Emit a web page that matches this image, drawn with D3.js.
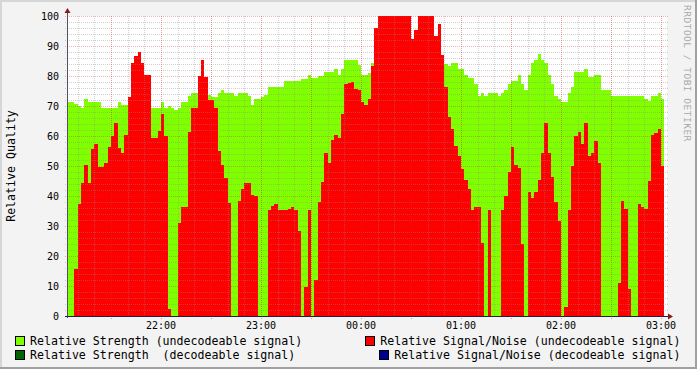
<!DOCTYPE html>
<html>
<head>
<meta charset="utf-8">
<script src="https://cdn.jsdelivr.net/npm/d3@7"></script>
<style>
  body { margin: 0; background: #f3f3f3; }
  text { font-family: "DejaVu Sans Mono", monospace; fill: #000; }
</style>
</head>
<body>
<svg id="chart" width="697" height="369"></svg>
<script>
//Samples every 2 minutes, first one at 21:04
var startTime = new Date(2020, 0, 1, 21, 4);
var stepMinutes = 2;

//Relative Strength (undecodeable signal)
var strength = [
  71.3, 71.3, 70.7, 70, 69.4, 72.3, 71.4, 71.4, 71.4, 71.4,
  69.4, 69.4, 69.4, 69.4, 69.4, 71.4, 70.3, 70.3, 71, 71,
  71, 71, 71, 70.5, 70, 69.4, 69.4, 69.4, 71.3, 69.4,
  70, 69.4, 68.7, 69.4, 71.4, 71.4, 73.4, 74.2, 74.2, 74,
  74, 74, 73.7, 73, 73, 74.2, 75.3, 74.2, 74.2, 74.2,
  73.3, 74.2, 74.2, 74.2, 73.3, 70.3, 72.3, 72.3, 73, 73.7,
  76.2, 76.2, 76.2, 76.2, 76.2, 78.3, 78.3, 78.3, 78.3, 78.3,
  79, 79, 80.2, 79.4, 79.4, 80.1, 80.1, 81.3, 81.3, 81.3,
  82.2, 80.3, 82.2, 85.3, 85.3, 85.3, 85.3, 83.7, 80.3, 80.3,
  81.1, 84.2, 84, 84, 84, 84, 84, 84, 84, 84,
  84, 84, 84, 84, 84, 84, 84, 84, 84, 84,
  84, 84, 84, 84, 83.4, 84.2, 84.2, 82.2, 82.2, 80.3,
  79.4, 79.4, 77.3, 73.3, 74.2, 73.3, 74.2, 74.2, 74.2, 73.3,
  74.2, 75.3, 77.3, 78.4, 78.4, 80.3, 77.3, 75.3, 80.3, 84.2,
  85.3, 87.3, 85.3, 84.2, 80.3, 77.3, 73.3, 72.2, 71.4, 71.4,
  74.2, 76.2, 81.4, 81.4, 81.4, 82.2, 79.8, 79.6, 80.3, 80.3,
  75.3, 75.3, 75.3, 73.3, 73.3, 73.3, 73.3, 73.3, 73.3, 73.3,
  73.3, 73.3, 73.3, 72.3, 71.7, 73.3, 73.3, 74.2, 72.3
];

//Relative Signal/Noise (undecodeable signal)
var signalNoise = [
  0, 0, 15.8, 37.3, 44.2, 50.3, 44.4, 55.6, 57.3, 49.8,
  49.8, 51, 56.2, 60, 64.2, 56, 54.2, 60.3, 73, 84.2,
  86.7, 88, 84.2, 80.3, 80.3, 59.4, 59.4, 61.8, 67.3, 60,
  2.3, 0, 0, 31, 36.4, 36.4, 61.4, 69.4, 69.4, 80,
  85.3, 79.8, 72, 72, 69.2, 55, 50.3, 46, 37.6, 0,
  0, 38.3, 42.2, 44.2, 44.2, 40.3, 40, 0, 0, 0,
  35.3, 36.7, 37.3, 35.3, 35.3, 35.3, 35.7, 36.2, 35.3, 28.4,
  0, 9.8, 35.3, 0, 12, 38, 44.6, 54.2, 51, 58.7,
  60.3, 59.4, 67.3, 77.3, 77.6, 78.1, 75.6, 75.3, 71.4, 70.3,
  72.2, 83.3, 95.9, 100, 100, 100, 100, 100, 100, 100,
  100, 100, 100, 92.3, 95.3, 100, 100, 100, 100, 100,
  93.4, 97.3, 87, 76.4, 66.2, 62.2, 56.7, 53.4, 49, 45.3,
  42.2, 35.3, 36.4, 36.2, 24.4, 0, 35.3, 0, 0, 0,
  35.3, 40, 48, 56.2, 50.5, 49.2, 24, 0, 41.4, 39.2,
  41.4, 45.3, 54.2, 64.2, 54.2, 46.4, 38.1, 31.8, 0, 3.1,
  35.3, 50, 60, 61.4, 57.3, 64.2, 53.4, 54.2, 58.3, 51,
  0, 0, 0, 0, 0, 10.9, 38.3, 35.6, 8.9, 0,
  0, 37.3, 36.4, 35.6, 45, 60.3, 61.1, 62.3, 50
];

//Legend entries
var legendLabels = [
  "Relative Strength (undecodeable signal)",
  "Relative Signal/Noise (undecodeable signal)",
  "Relative Strength  (decodeable signal)",
  "Relative Signal/Noise (decodeable signal)"
];
var legendColors = ["#7fff00", "#ff0000", "#006400", "#000090"];

var yTicks = [0, 10, 20, 30, 40, 50, 60, 70, 80, 90, 100];

var width = 697, height = 369;
var plot = { left: 67, right: 667, top: 16, bottom: 316 };

var svg = d3.select("svg#chart");

//Background with the 3D looking frame
svg.append("rect").attr("width", width).attr("height", height).attr("fill", "#f3f3f3");
svg.append("rect").attr("x", 0).attr("y", 0).attr("width", width).attr("height", 2).attr("fill", "#d6d6d6");
svg.append("rect").attr("x", 0).attr("y", 0).attr("width", 2).attr("height", height).attr("fill", "#d6d6d6");
svg.append("rect").attr("x", 0).attr("y", height - 2).attr("width", width).attr("height", 2).attr("fill", "#a0a0a0");
svg.append("rect").attr("x", width - 2).attr("y", 0).attr("width", 2).attr("height", height).attr("fill", "#a0a0a0");

//Scales
var x = d3.scaleTime()
  .domain([new Date(2020, 0, 1, 21, 3, 36), new Date(2020, 0, 2, 3, 3, 36)])
  .range([plot.left, plot.right]);
var y = d3.scaleLinear().domain([0, 100]).range([plot.bottom, plot.top]);

//Canvas
svg.append("rect")
  .attr("x", plot.left).attr("y", plot.top)
  .attr("width", plot.right - plot.left).attr("height", plot.bottom - plot.top)
  .attr("fill", "#ffffff");

//Turn a value array into step points (one extra point closes the last step)
function toPoints(values) {
  var pts = values.map(function (v, i) {
    return { t: d3.timeMinute.offset(startTime, i * stepMinutes), v: v };
  });
  pts.push({ t: d3.timeMinute.offset(startTime, values.length * stepMinutes), v: values[values.length - 1] });
  return pts;
}

var area = d3.area()
  .curve(d3.curveStepAfter)
  .x(function (d) { return x(d.t); })
  .y0(y(0))
  .y1(function (d) { return y(d.v); });

svg.append("path")
  .datum(toPoints(strength))
  .attr("fill", "#7fff00")
  .attr("shape-rendering", "crispEdges")
  .attr("d", area);

svg.append("path")
  .datum(toPoints(signalNoise))
  .attr("fill", "#ff0000")
  .attr("shape-rendering", "crispEdges")
  .attr("d", area);

//Grid, drawn over the areas like rrdtool does
var grid = svg.append("g").attr("shape-rendering", "crispEdges");
var minorY = d3.range(0, 101, 2).filter(function (v) { return v % 10 != 0; });
var minorX = x.ticks(d3.timeMinute.every(10)).filter(function (d) { return d.getMinutes() % 30 != 0; });
var majorX = x.ticks(d3.timeMinute.every(30));

grid.selectAll(".minorY").data(minorY).enter().append("line")
  .attr("x1", plot.left - 2).attr("x2", plot.right + 2)
  .attr("y1", function (d) { return Math.round(y(d)) + 0.5; })
  .attr("y2", function (d) { return Math.round(y(d)) + 0.5; })
  .attr("stroke", "rgba(140,140,140,0.4)").attr("stroke-dasharray", "1,1");
grid.selectAll(".minorX").data(minorX).enter().append("line")
  .attr("x1", function (d) { return Math.round(x(d)) + 0.5; })
  .attr("x2", function (d) { return Math.round(x(d)) + 0.5; })
  .attr("y1", plot.top).attr("y2", plot.bottom + 2)
  .attr("stroke", "rgba(140,140,140,0.4)").attr("stroke-dasharray", "1,1");
grid.selectAll(".majorY").data(yTicks).enter().append("line")
  .attr("x1", plot.left - 2).attr("x2", plot.right + 2)
  .attr("y1", function (d) { return Math.round(y(d)) + 0.5; })
  .attr("y2", function (d) { return Math.round(y(d)) + 0.5; })
  .attr("stroke", "rgba(210,40,40,0.35)").attr("stroke-dasharray", "1,1");
grid.selectAll(".majorX").data(majorX).enter().append("line")
  .attr("x1", function (d) { return Math.round(x(d)) + 0.5; })
  .attr("x2", function (d) { return Math.round(x(d)) + 0.5; })
  .attr("y1", plot.top).attr("y2", plot.bottom + 3)
  .attr("stroke", "rgba(210,40,40,0.45)").attr("stroke-dasharray", "1,1");

//Axes lines and arrows
svg.append("line")
  .attr("x1", plot.left + 0.5).attr("x2", plot.left + 0.5)
  .attr("y1", plot.bottom + 2).attr("y2", plot.top - 6)
  .attr("stroke", "#505060").attr("shape-rendering", "crispEdges");
svg.append("line")
  .attr("x1", plot.left - 2).attr("x2", plot.right + 4)
  .attr("y1", plot.bottom + 0.5).attr("y2", plot.bottom + 0.5)
  .attr("stroke", "#202040").attr("shape-rendering", "crispEdges");
svg.append("path")
  .attr("d", "M" + (plot.left - 2.5) + "," + (plot.top - 3) + "L" + (plot.left + 3.5) + "," + (plot.top - 3) + "L" + (plot.left + 0.5) + "," + (plot.top - 8) + "Z")
  .attr("fill", "#8b1a1a");
svg.append("path")
  .attr("d", "M" + (plot.right + 1) + "," + (plot.bottom - 2.5) + "L" + (plot.right + 1) + "," + (plot.bottom + 3.5) + "L" + (plot.right + 6) + "," + (plot.bottom + 0.5) + "Z")
  .attr("fill", "#8b1a1a");

//Tick labels
svg.selectAll(".ylab").data(yTicks).enter().append("text")
  .attr("x", 59).attr("y", function (d) { return y(d); })
  .attr("dy", "0.36em")
  .attr("text-anchor", "end")
  .style("font-size", "10px")
  .text(function (d) { return d; });

var hourTicks = x.ticks(d3.timeHour.every(1));
svg.selectAll(".xlab").data(hourTicks).enter().append("text")
  .attr("x", function (d) { return x(d); }).attr("y", 328.5)
  .attr("text-anchor", "middle")
  .style("font-size", "10px")
  .text(d3.timeFormat("%H:%M"));

//Vertical axis title
svg.append("text")
  .attr("transform", "translate(15," + (plot.top + plot.bottom) / 2 + ") rotate(-90)")
  .attr("text-anchor", "middle")
  .style("font-size", "11.6px")
  .text("Relative Quality");

//Watermark
svg.append("text")
  .attr("transform", "translate(684,5) rotate(90)")
  .style("font-size", "9.5px")
  .style("letter-spacing", "0.5px")
  .style("fill", "#a8a8a8")
  .text("RRDTOOL / TOBI OETIKER");

//Legend: left column left aligned, right column right aligned
var legendFont = 11.6;
var legend = svg.selectAll(".legend").data(legendLabels).enter().append("g");
legend.each(function (d, i) {
  var g = d3.select(this);
  var row = Math.floor(i / 2), col = i % 2;
  var baseline = 345 + row * 14;
  var textW = d.length * legendFont * 0.602;
  var tx = col == 0 ? 30 : 680.5 - textW;
  g.append("rect")
    .attr("x", tx - 14.5).attr("y", baseline - 8.5)
    .attr("width", 9).attr("height", 9)
    .attr("fill", legendColors[i]).attr("stroke", "#000")
    .attr("shape-rendering", "crispEdges");
  g.append("text")
    .attr("x", tx).attr("y", baseline)
    .style("font-size", legendFont + "px")
    .attr("xml:space", "preserve")
    .style("white-space", "pre")
    .text(d);
});
</script>
</body>
</html>
